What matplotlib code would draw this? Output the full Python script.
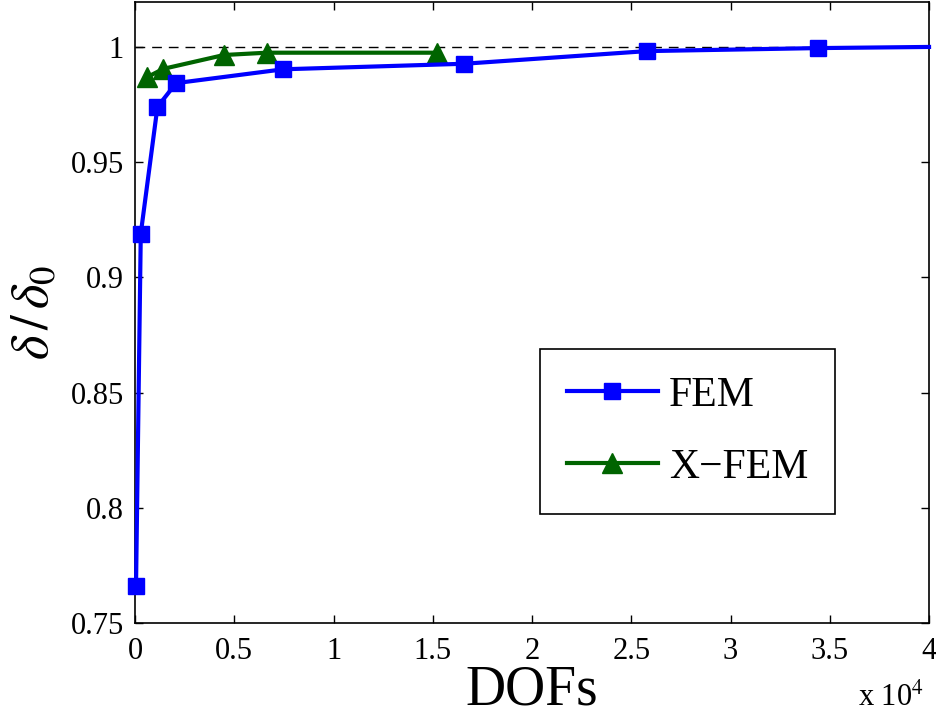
import matplotlib
matplotlib.use("Agg")
import matplotlib.pyplot as plt
from matplotlib.ticker import FuncFormatter, MultipleLocator

plt.rcParams['font.family'] = ['Liberation Serif', 'DejaVu Serif']
plt.rcParams['mathtext.fontset'] = 'stix'

# FEM convergence (last point only continues the line to the edge)
fem_dofs = [50, 290, 1130, 2070, 7470, 16570, 25800, 34400, 40000]
fem_ratio = [0.766, 0.919, 0.974, 0.9843, 0.9903, 0.9927, 0.9982, 0.9995, 1.0]

# X-FEM convergence
xfem_dofs = [590, 1430, 4480, 6630, 15230]
xfem_ratio = [0.9868, 0.9905, 0.9965, 0.9975, 0.9975]

ref_value = 1.0

fig = plt.figure(figsize=(9.37, 7.17), dpi=100)
ax = fig.add_axes([0.1441, 0.1311, 0.8474, 0.8661])

ax.axhline(ref_value, color='black', lw=1, ls=(0, (7, 5)), zorder=1)
ax.plot(fem_dofs, fem_ratio, color='blue', lw=3, marker='s', markersize=12,
        markevery=list(range(len(fem_dofs) - 1)), clip_on=False,
        label='FEM', zorder=3)
ax.plot(xfem_dofs, xfem_ratio, color='#006400', lw=3, marker='^',
        markersize=14, label='X\u2212FEM', zorder=2)

ax.set_xlim(0, 40000)
ax.set_ylim(0.75, 1.0195)
ax.xaxis.set_major_locator(MultipleLocator(5000))
ax.yaxis.set_major_locator(MultipleLocator(0.05))
ax.xaxis.set_major_formatter(FuncFormatter(lambda v, p: '%g' % (v / 1e4)))
ax.yaxis.set_major_formatter(FuncFormatter(lambda v, p: '%g' % round(v, 2)))
ax.tick_params(direction='in', length=6, width=1, top=True, right=True,
               labelsize=22, pad=8)
ax.tick_params(axis='x', pad=10)
for s in ax.spines.values():
    s.set_linewidth(1.2)

ax.set_xlabel('DOFs', fontsize=40, labelpad=-1)
ax.set_ylabel(r'$\delta\,/\,\delta_0$', fontsize=38, labelpad=8)
fig.text(0.986, 0.006, r'x 10$^4$', fontsize=22, ha='right', va='bottom')

leg = ax.legend(loc='upper left', bbox_to_anchor=(0.5095, 0.441),
                fontsize=30, handlelength=2.2, handletextpad=0.25,
                borderpad=0.65, labelspacing=0.8, fancybox=False,
                framealpha=1, edgecolor='black', borderaxespad=0)
leg.get_frame().set_linewidth(1.2)

fig.savefig('out.png', dpi=100)
